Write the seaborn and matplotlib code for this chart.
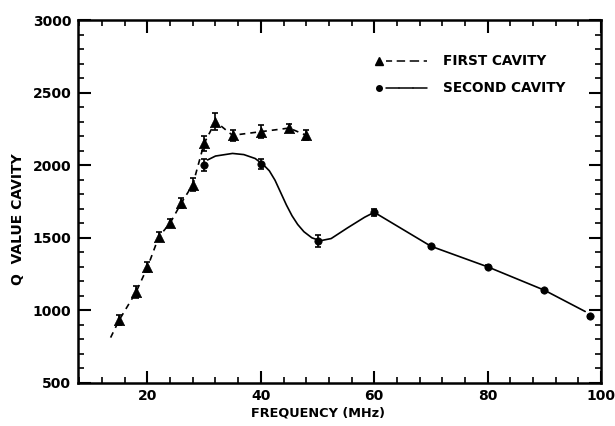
import matplotlib
matplotlib.use("Agg")
import matplotlib.pyplot as plt
import seaborn as sns
import pandas as pd
from matplotlib.ticker import MultipleLocator
from matplotlib.lines import Line2D
from matplotlib.legend_handler import HandlerTuple

# ---- data ----
first_x = [15, 18, 20, 22, 24, 26, 28, 30, 32, 35, 40, 45, 48]
first_y = [930, 1125, 1295, 1505, 1600, 1740, 1865, 2150, 2300, 2205, 2230, 2255, 2205]
first_err = [35, 40, 35, 30, 30, 35, 45, 50, 60, 40, 45, 30, 35]

first_line_x = [13.5, 15, 18, 20, 22, 24, 26, 28, 30, 32, 35, 40, 45, 48]
first_line_y = [810, 930, 1125, 1295, 1505, 1600, 1740, 1865, 2150, 2300, 2205, 2230, 2255, 2205]

second_x = [30, 40, 50, 60, 70, 80, 90, 98]
second_y = [2000, 2010, 1475, 1674, 1440, 1298, 1137, 958]
second_err = [40, 35, 40, 25, 10, 10, 10, 10]

second_line_x = [30.6, 32, 35, 37, 39, 40.5, 41.5, 42.5, 43.5, 44.5, 45.5, 46.5, 47.6, 49, 50.5,
                 52.4, 55.3, 58.3, 60, 70, 80, 90, 97.2]
second_line_y = [2035, 2062, 2080, 2072, 2045, 2000, 1960, 1895, 1810, 1725, 1650, 1590, 1540,
                 1498, 1478, 1493, 1567, 1640, 1674, 1440, 1298, 1137, 990]

legend_labels = ["FIRST CAVITY", "SECOND CAVITY"]
x_ticks = [20, 40, 60, 80, 100]
y_ticks = [500, 1000, 1500, 2000, 2500, 3000]

sns.set_theme(style="ticks")
plt.rcParams['font.family'] = ['DejaVu Sans']
plt.rcParams['font.weight'] = 'bold'
for key in ['text.color', 'axes.labelcolor', 'xtick.color', 'ytick.color', 'axes.edgecolor']:
    plt.rcParams[key] = 'black'

fig = plt.figure(figsize=(6.15, 4.26), dpi=100)
ax = fig.add_axes([0.1273, 0.102, 0.850, 0.851])

df1 = pd.DataFrame({"x": first_line_x, "y": first_line_y})
df2 = pd.DataFrame({"x": second_line_x, "y": second_line_y})
sns.lineplot(data=df1, x="x", y="y", ax=ax, color="black", lw=1.2,
             linestyle=(0, (3.5, 3)), sort=False, estimator=None)
sns.lineplot(data=df2, x="x", y="y", ax=ax, color="black", lw=1.2,
             sort=False, estimator=None)

ax.errorbar(first_x, first_y, yerr=first_err, fmt="none", ecolor="black",
            elinewidth=1.2, capsize=2.5, capthick=1.2)
ax.errorbar(second_x, second_y, yerr=second_err, fmt="none", ecolor="black",
            elinewidth=1.2, capsize=2.5, capthick=1.2)

sns.scatterplot(x=first_x, y=first_y, ax=ax, marker="^", color="black", s=55,
                edgecolor="black", linewidth=0.5, zorder=5)
sns.scatterplot(x=second_x, y=second_y, ax=ax, marker="o", color="black", s=28,
                edgecolor="black", linewidth=0.5, zorder=5)

ax.set_xlim(7.8, 100)
ax.set_ylim(500, 3000)
ax.set_xticks(x_ticks)
ax.set_yticks(y_ticks)
ax.xaxis.set_minor_locator(MultipleLocator(4))
ax.yaxis.set_minor_locator(MultipleLocator(100))
ax.tick_params(which="major", direction="in", length=9, width=1.5,
               top=True, right=True, labelsize=10, pad=5, colors="black")
ax.tick_params(which="minor", direction="in", length=4.5, width=1.2,
               top=True, right=True, colors="black")
for lbl in ax.get_xticklabels() + ax.get_yticklabels():
    lbl.set_fontweight("bold")
for sp in ax.spines.values():
    sp.set_linewidth(1.8)
    sp.set_color("black")

ax.set_xlabel("FREQUENCY (MHz)", fontsize=9.3, fontweight="bold", color="black")
ax.set_ylabel("Q  VALUE CAVITY", fontsize=10, fontweight="bold", color="black")
ax.xaxis.set_label_coords(0.459, -0.066)
ax.yaxis.set_label_coords(-0.102, 0.45)

mk1 = Line2D([0], [0], color="black", lw=0, marker="^", markersize=5.5)
ln1 = Line2D([0], [0], color="black", lw=1.1, linestyle=(0, (4, 3)))
mk2 = Line2D([0], [0], color="black", lw=0, marker="o", markersize=4)
ln2 = Line2D([0], [0], color="black", lw=1.1)
leg = ax.legend([(mk1, ln1, ln1, ln1), (mk2, ln2, ln2, ln2)], legend_labels,
                handler_map={tuple: HandlerTuple(ndivide=4, pad=0)},
                loc="upper left", bbox_to_anchor=(0.562, 0.905),
                borderaxespad=0, borderpad=0, frameon=False,
                fontsize=9.8, handlelength=4.0, labelspacing=0.95,
                handletextpad=1.2)
for t in leg.get_texts():
    t.set_fontweight("bold")
    t.set_color("black")

fig.savefig("out.png", dpi=100)
